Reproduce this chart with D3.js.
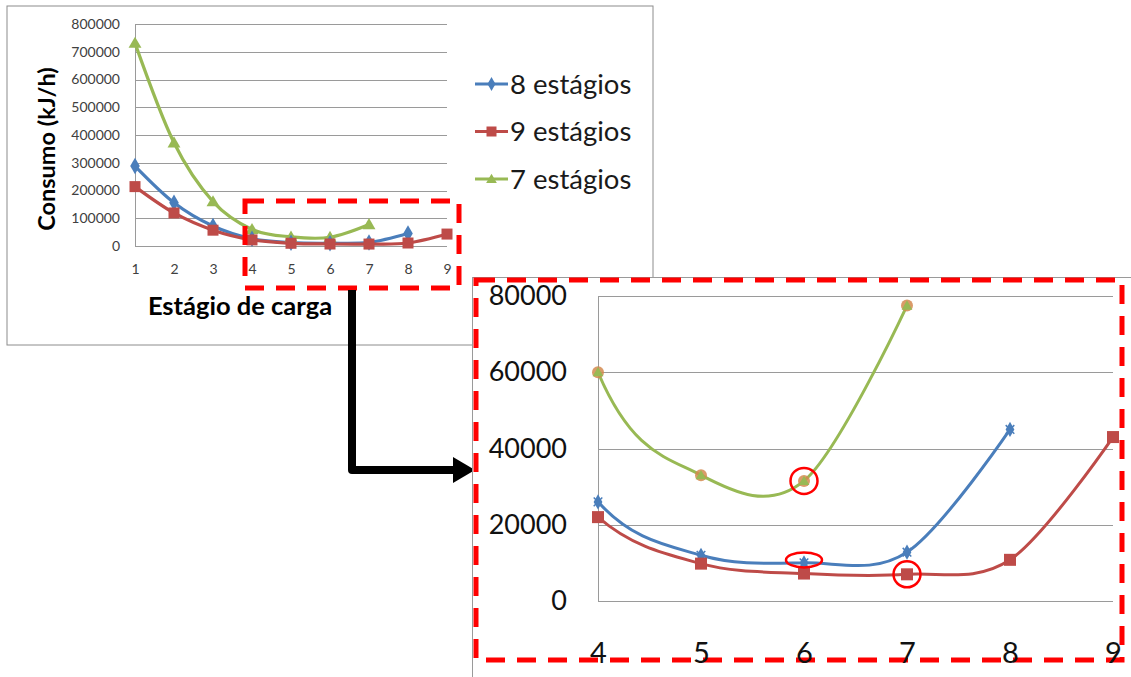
<!DOCTYPE html>
<html>
<head>
<meta charset="utf-8">
<script src="https://cdn.jsdelivr.net/npm/d3@7"></script>
<style>
  html, body { margin: 0; padding: 0; background: #fff; }
  svg { display: block; font-family: Lato, "Open Sans", sans-serif; }
</style>
</head>
<body>
<svg id="chart" width="1131" height="677"></svg>
<script>
// Load stages (x categories)
const stages = [1, 2, 3, 4, 5, 6, 7, 8, 9];
// Consumption (kJ/h) per load stage, one array per configuration
const consumo8 = [288000, 156000, 72000, 26000, 12000, 10000, 12800, 45000];
const consumo9 = [214000, 119000, 57000, 22000, 9800, 7200, 7000, 10800, 43000];
const consumo7 = [731000, 372000, 160000, 60000, 33000, 31500, 77500];
// Axis ticks
const ticksMain = [0, 100000, 200000, 300000, 400000, 500000, 600000, 700000, 800000];
const ticksZoom = [0, 20000, 40000, 60000, 80000];
const stagesZoom = [4, 5, 6, 7, 8, 9];
const seriesNames = ["8 estágios", "9 estágios", "7 estágios"];
// Points highlighted in the detail view: [series index, stage]
const highlights = [[2, 6], [0, 6], [1, 7]];

const colors = ["#4a7ebb", "#be4b48", "#98b954"];
const seriesData = [consumo8, consumo9, consumo7].map(arr => arr.map((v, i) => ({ x: stages[i], y: v })));

const svg = d3.select("#chart");
svg.append("rect").attr("width", 1131).attr("height", 677).attr("fill", "#fff");

const curve = d3.curveCardinal.tension(0);

function marker(g, idx, cx, cy, s) {
  if (idx === 0) {
    g.append("path").attr("d", d3.symbol(d3.symbolDiamond, s * s * 0.55)())
      .attr("transform", `translate(${cx},${cy})`).attr("fill", colors[0]);
  } else if (idx === 1) {
    g.append("rect").attr("x", cx - s / 2).attr("y", cy - s / 2).attr("width", s).attr("height", s)
      .attr("fill", colors[1]);
  } else {
    g.append("path").attr("d", d3.symbol(d3.symbolTriangle, s * s * 0.5)())
      .attr("transform", `translate(${cx},${cy + 1})`).attr("fill", colors[2]);
  }
}

// ---------- Overview chart ----------
const main = svg.append("g");
main.append("rect").attr("x", 7).attr("y", 6).attr("width", 646).attr("height", 339)
  .attr("fill", "#fff").attr("stroke", "#8c8c8c").attr("stroke-width", 1);

const xM = d3.scaleLinear().domain([1, 9]).range([135, 447]);
const yM = d3.scaleLinear().domain([0, 800000]).range([246, 24]);

main.append("g").selectAll("line").data(ticksMain).join("line")
  .attr("x1", 135).attr("x2", 447)
  .attr("y1", d => Math.round(yM(d)) + 0.5).attr("y2", d => Math.round(yM(d)) + 0.5)
  .attr("stroke", "#9a9a9a").attr("stroke-width", 1);
main.append("line").attr("x1", 135.5).attr("x2", 135.5).attr("y1", yM(800000)).attr("y2", yM(0))
  .attr("stroke", "#9a9a9a");

const yAxisM = main.append("g").attr("transform", "translate(135,0)")
  .call(d3.axisLeft(yM).tickValues(ticksMain).tickSize(0).tickPadding(15).tickFormat(d3.format("d")));
yAxisM.select(".domain").remove();
yAxisM.selectAll("text").attr("font-size", 14).attr("fill", "#404040").attr("font-family", "Lato");

const xAxisM = main.append("g").attr("transform", "translate(0,246)")
  .call(d3.axisBottom(xM).tickValues(stages).tickSize(0).tickPadding(18).tickFormat(d3.format("d")));
xAxisM.select(".domain").remove();
xAxisM.selectAll("text").attr("font-size", 14).attr("fill", "#404040").attr("font-family", "Lato");

main.append("text").attr("x", 240).attr("y", 315).attr("text-anchor", "middle")
  .attr("font-size", 25.5).attr("font-weight", "bold").attr("fill", "#000").text("Estágio de carga");
main.append("text").attr("transform", "translate(55,149) rotate(-90)").attr("text-anchor", "middle")
  .attr("font-size", 23.5).attr("font-weight", "bold").attr("fill", "#000").text("Consumo (kJ/h)");

const lineM = d3.line().x(d => xM(d.x)).y(d => yM(d.y)).curve(curve);
[2, 0, 1].forEach(i => {
  main.append("path").attr("d", lineM(seriesData[i])).attr("fill", "none")
    .attr("stroke", colors[i]).attr("stroke-width", 3.2);
});
[2, 0, 1].forEach(i => {
  seriesData[i].forEach(d => marker(main, i, xM(d.x), yM(d.y), i === 1 ? 11 : 12));
});

// Legend
const legend = svg.append("g");
seriesNames.forEach((name, i) => {
  const ly = 84 + i * 47.5;
  legend.append("line").attr("x1", 475).attr("x2", 508).attr("y1", ly).attr("y2", ly)
    .attr("stroke", colors[i]).attr("stroke-width", 3);
  marker(legend, i, 491.5, ly, 10);
  legend.append("text").attr("x", 510).attr("y", ly + 9.5).attr("font-size", 27.5)
    .attr("fill", "#1a1a1a").text(name);
});

// Dashed frame marking the detail region
const dash = "19,12";
svg.append("rect").attr("x", 245).attr("y", 201).attr("width", 214).attr("height", 87)
  .attr("fill", "none").attr("stroke", "#ff0000").attr("stroke-width", 5).attr("stroke-dasharray", dash);

// Arrow pointing to the detail view
svg.append("path").attr("d", "M352,290 V470 H456").attr("fill", "none")
  .attr("stroke", "#000").attr("stroke-width", 8).attr("stroke-linejoin", "round");
svg.append("path").attr("d", "M453,457 L475,470 L453,483 Z").attr("fill", "#000");

// ---------- Detail chart ----------
const det = svg.append("g");
det.append("rect").attr("x", 472.5).attr("y", 277.5).attr("width", 700).attr("height", 450)
  .attr("fill", "#fff").attr("stroke", "#9a9a9a").attr("stroke-width", 1);

const xZ = d3.scaleLinear().domain([4, 9]).range([598, 1113]);
const yZ = d3.scaleLinear().domain([0, 80000]).range([601, 296]);

det.append("g").selectAll("line").data(ticksZoom).join("line")
  .attr("x1", 598).attr("x2", 1113)
  .attr("y1", d => Math.round(yZ(d)) + 0.5).attr("y2", d => Math.round(yZ(d)) + 0.5)
  .attr("stroke", "#9a9a9a").attr("stroke-width", 1);
det.append("line").attr("x1", 598.5).attr("x2", 598.5).attr("y1", yZ(80000)).attr("y2", yZ(0))
  .attr("stroke", "#9a9a9a");

const yAxisZ = det.append("g").attr("transform", "translate(598,0)")
  .call(d3.axisLeft(yZ).tickValues(ticksZoom).tickSize(0).tickPadding(31).tickFormat(d3.format("d")));
yAxisZ.select(".domain").remove();
yAxisZ.selectAll("text").attr("font-size", 27).attr("fill", "#111").attr("font-family", "Lato");

const clip = det.append("clipPath").attr("id", "zoomclip");
clip.append("rect").attr("x", 598).attr("y", 290).attr("width", 530).attr("height", 320);

const lineZ = d3.line().x(d => xZ(d.x)).y(d => yZ(d.y)).curve(curve);
const zoomGroup = det.append("g").attr("clip-path", "url(#zoomclip)");
[2, 0, 1].forEach(i => {
  // keep one stage before the window so the curve enters smoothly
  const pts = seriesData[i].filter(d => d.x >= 3);
  zoomGroup.append("path").attr("d", lineZ(pts)).attr("fill", "none")
    .attr("stroke", colors[i]).attr("stroke-width", 3);
});
[2, 0, 1].forEach(i => {
  seriesData[i].filter(d => d.x >= 4).forEach(d => {
    const cx = xZ(d.x), cy = yZ(d.y);
    if (i === 2) {
      det.append("circle").attr("cx", cx).attr("cy", cy).attr("r", 6).attr("fill", "#d4894f").attr("opacity", 0.85);
      marker(det, 2, cx, cy, 10);
    } else if (i === 0) {
      marker(det, 0, cx, cy, 11);
      det.append("path").attr("d", d3.symbol(d3.symbolTimes, 50)())
        .attr("transform", `translate(${cx},${cy})`).attr("stroke", colors[0]).attr("stroke-width", 1.5).attr("fill", "none");
    } else {
      marker(det, 1, cx, cy, 12);
    }
  });
});

// Highlight rings on selected points
highlights.forEach(([s, stage]) => {
  const v = seriesData[s].find(d => d.x === stage).y;
  const cx = xZ(stage), cy = yZ(v);
  const rx = s === 0 ? 18 : 13.5, ry = s === 0 ? 7.5 : 13;
  det.append("ellipse").attr("cx", cx).attr("cy", cy - (s === 0 ? 3 : 0))
    .attr("rx", rx).attr("ry", ry).attr("fill", "none").attr("stroke", "#ff0000").attr("stroke-width", 2.5);
});

det.append("rect").attr("x", 476).attr("y", 280).attr("width", 646).attr("height", 380)
  .attr("fill", "none").attr("stroke", "#ff0000").attr("stroke-width", 5).attr("stroke-dasharray", dash);

const xAxisZ = det.append("g").attr("transform", "translate(0,601)")
  .call(d3.axisBottom(xZ).tickValues(stagesZoom).tickSize(0).tickPadding(41).tickFormat(d3.format("d")));
xAxisZ.select(".domain").remove();
xAxisZ.selectAll("text").attr("font-size", 29).attr("fill", "#111").attr("font-family", "Lato");
</script>
</body>
</html>
